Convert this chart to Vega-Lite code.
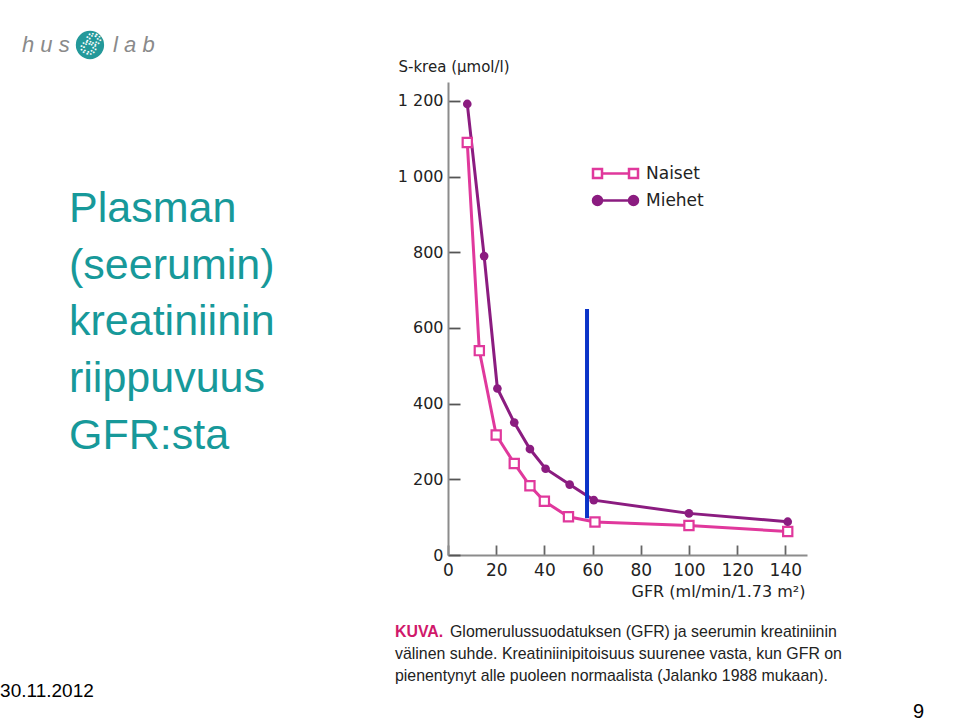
{
  "$schema": "https://vega.github.io/schema/vega-lite/v6.json",
  "width": 359,
  "height": 473,
  "autosize": {"type": "none"},
  "padding": {"left": 448, "top": 82, "right": 153, "bottom": 166},
  "background": "white",
  "config": {"view": {"stroke": null}, "axis": {"grid": false}},
  "datasets": {
    "kreatiniini": [
      {"sukupuoli": "Naiset", "gfr": 8, "krea": 1090},
      {"sukupuoli": "Naiset", "gfr": 13, "krea": 540},
      {"sukupuoli": "Naiset", "gfr": 20, "krea": 317},
      {"sukupuoli": "Naiset", "gfr": 27.5, "krea": 242},
      {"sukupuoli": "Naiset", "gfr": 34, "krea": 183},
      {"sukupuoli": "Naiset", "gfr": 40, "krea": 142},
      {"sukupuoli": "Naiset", "gfr": 50, "krea": 101},
      {"sukupuoli": "Naiset", "gfr": 61, "krea": 87},
      {"sukupuoli": "Naiset", "gfr": 100, "krea": 78},
      {"sukupuoli": "Naiset", "gfr": 141, "krea": 62},
      {"sukupuoli": "Miehet", "gfr": 8, "krea": 1192},
      {"sukupuoli": "Miehet", "gfr": 15, "krea": 790},
      {"sukupuoli": "Miehet", "gfr": 20.5, "krea": 440},
      {"sukupuoli": "Miehet", "gfr": 27.5, "krea": 350},
      {"sukupuoli": "Miehet", "gfr": 34, "krea": 280},
      {"sukupuoli": "Miehet", "gfr": 40.5, "krea": 228},
      {"sukupuoli": "Miehet", "gfr": 50.5, "krea": 186},
      {"sukupuoli": "Miehet", "gfr": 60.5, "krea": 145},
      {"sukupuoli": "Miehet", "gfr": 100, "krea": 110},
      {"sukupuoli": "Miehet", "gfr": 141, "krea": 88}
    ]
  },
  "layer": [
    {
      "data": {"name": "kreatiniini"},
      "mark": {"type": "line", "strokeWidth": 3},
      "encoding": {
        "x": {
          "field": "gfr", "type": "quantitative",
          "scale": {"domain": [0, 149], "nice": false, "zero": false},
          "axis": {
            "title": "GFR (ml/min/1.73 m²)",
            "values": [0, 10, 20, 30, 40, 50, 60, 70, 80, 90, 100, 110, 120, 130, 140],
            "labelExpr": "datum.value % 20 === 0 ? datum.label : ''",
            "tickSize": -10, "tickColor": "#666666", "tickWidth": 1.8,
            "domainColor": "#8c8c8c", "domainWidth": 2,
            "labelPadding": 17, "labelFont": "DejaVu Sans", "labelFontSize": 17, "labelColor": "#222222",
            "labelFlush": false, "labelOverlap": false,
            "titleFont": "DejaVu Sans", "titleFontSize": 16, "titleFontWeight": "normal", "titleColor": "#222222",
            "titleX": 357, "titleY": 36, "titleAlign": "right", "titleBaseline": "middle"
          }
        },
        "y": {
          "field": "krea", "type": "quantitative",
          "scale": {"domain": [0, 1250], "nice": false, "zero": false},
          "axis": {
            "title": "S-krea (µmol/l)",
            "values": [0, 100, 200, 300, 400, 500, 600, 700, 800, 900, 1000, 1100, 1200],
            "labelExpr": "datum.value % 200 === 0 ? replace(format(datum.value, ','), ',', ' ') : ''",
            "tickSize": -12, "tickColor": "#555555", "tickWidth": 1.8,
            "domainColor": "#8c8c8c", "domainWidth": 2,
            "labelPadding": 17, "labelFont": "DejaVu Sans", "labelFontSize": 16, "labelColor": "#222222",
            "labelFlush": false, "labelOverlap": false,
            "titleFont": "DejaVu Sans", "titleFontSize": 15, "titleFontWeight": "normal", "titleColor": "#222222",
            "titleAngle": 0, "titleX": -50, "titleY": -16, "titleAlign": "left", "titleBaseline": "middle"
          }
        },
        "color": {
          "field": "sukupuoli", "type": "nominal",
          "scale": {"domain": ["Naiset", "Miehet"], "range": ["#e0389c", "#8b1c80"]},
          "legend": {
            "orient": "none", "legendX": 156, "legendY": 80, "title": null, "padding": 0,
            "symbolSize": 400, "symbolStrokeWidth": 2.5,
            "labelFont": "DejaVu Sans", "labelFontSize": 17, "labelColor": "#222222",
            "labelOffset": 19, "rowPadding": 6,
            "encode": {
              "symbols": {
                "update": {
                  "shape": {"signal": "datum.value === 'Naiset' ? 'M-2.25,-0.45L-1.35,-0.45L-1.35,0.45L-2.25,0.45Z M-1.35,0L1.35,0 M1.35,-0.45L2.25,-0.45L2.25,0.45L1.35,0.45Z' : 'M-2.25,0A0.45,0.45,0,1,1,-1.35,0A0.45,0.45,0,1,1,-2.25,0Z M-1.35,0L1.35,0 M1.35,0A0.45,0.45,0,1,1,2.25,0A0.45,0.45,0,1,1,1.35,0Z'"},
                  "fill": {"signal": "datum.value === 'Naiset' ? 'white' : '#8b1c80'"},
                  "stroke": {"signal": "datum.value === 'Naiset' ? '#e0389c' : '#8b1c80'"},
                  "strokeWidth": {"value": 2.5},
                  "opacity": {"value": 1}
                }
              }
            }
          }
        }
      }
    },
    {
      "data": {"name": "kreatiniini"},
      "transform": [{"filter": "datum.sukupuoli === 'Naiset'"}],
      "mark": {"type": "point", "shape": "square", "filled": true, "fill": "white", "stroke": "#e0389c", "strokeWidth": 2.2, "size": 85, "opacity": 1},
      "encoding": {
        "x": {"field": "gfr", "type": "quantitative"},
        "y": {"field": "krea", "type": "quantitative"}
      }
    },
    {
      "data": {"name": "kreatiniini"},
      "transform": [{"filter": "datum.sukupuoli === 'Miehet'"}],
      "mark": {"type": "circle", "color": "#8b1c80", "size": 75, "opacity": 1},
      "encoding": {
        "x": {"field": "gfr", "type": "quantitative"},
        "y": {"field": "krea", "type": "quantitative"}
      }
    },
    {
      "data": {"values": [{}]},
      "mark": {"type": "rule", "color": "#0a33c8", "strokeWidth": 4},
      "encoding": {
        "x": {"datum": 57.7, "type": "quantitative"},
        "y": {"datum": 97, "type": "quantitative"},
        "y2": {"datum": 650}
      }
    },
    {
      "data": {"values": [{"t": "Plasman\n(seerumin)\nkreatiniinin\nriippuvuus\nGFR:sta"}]},
      "mark": {"type": "text", "lineBreak": "\n", "lineHeight": 56.8, "font": "Liberation Sans", "fontSize": 43, "color": "#17999a", "align": "left", "baseline": "alphabetic"},
      "encoding": {
        "text": {"field": "t", "type": "nominal"},
        "x": {"datum": -157.3, "type": "quantitative"},
        "y": {"datum": 880.8, "type": "quantitative"}
      }
    },
    {
      "data": {"values": [{"t": "KUVA."}]},
      "mark": {"type": "text", "font": "Liberation Sans", "fontSize": 15.9, "fontWeight": "bold", "color": "#d0186a", "align": "left", "baseline": "alphabetic"},
      "encoding": {
        "text": {"field": "t", "type": "nominal"},
        "x": {"datum": -22.0, "type": "quantitative"},
        "y": {"datum": -216.7, "type": "quantitative"}
      }
    },
    {
      "data": {"values": [{"t": "Glomerulussuodatuksen (GFR) ja seerumin kreatiniinin"}]},
      "mark": {"type": "text", "font": "Liberation Sans", "fontSize": 15.9, "color": "#222222", "align": "left", "baseline": "alphabetic"},
      "encoding": {
        "text": {"field": "t", "type": "nominal"},
        "x": {"datum": 0.83, "type": "quantitative"},
        "y": {"datum": -216.7, "type": "quantitative"}
      }
    },
    {
      "data": {"values": [{"t": "välinen suhde. Kreatiniinipitoisuus suurenee vasta, kun GFR on\npienentynyt alle puoleen normaalista (Jalanko 1988 mukaan)."}]},
      "mark": {"type": "text", "lineBreak": "\n", "lineHeight": 21.7, "font": "Liberation Sans", "fontSize": 15.9, "color": "#222222", "align": "left", "baseline": "alphabetic"},
      "encoding": {
        "text": {"field": "t", "type": "nominal"},
        "x": {"datum": -22.0, "type": "quantitative"},
        "y": {"datum": -275.6, "type": "quantitative"}
      }
    },
    {
      "data": {"values": [{"t": "30.11.2012"}]},
      "mark": {"type": "text", "font": "Liberation Sans", "fontSize": 19, "color": "#000000", "align": "left", "baseline": "alphabetic"},
      "encoding": {
        "text": {"field": "t", "type": "nominal"},
        "x": {"datum": -185.9, "type": "quantitative"},
        "y": {"datum": -374.5, "type": "quantitative"}
      }
    },
    {
      "data": {"values": [{"t": "9"}]},
      "mark": {"type": "text", "font": "Liberation Sans", "fontSize": 20, "color": "#000000", "align": "left", "baseline": "alphabetic"},
      "encoding": {
        "text": {"field": "t", "type": "nominal"},
        "x": {"datum": 193.0, "type": "quantitative"},
        "y": {"datum": -430.8, "type": "quantitative"}
      }
    },
    {
      "data": {"values": [{"t": "h u s"}]},
      "mark": {"type": "text", "font": "Liberation Sans", "fontSize": 22, "fontStyle": "italic", "color": "#8a8a8a", "align": "left", "baseline": "alphabetic"},
      "encoding": {
        "text": {"field": "t", "type": "nominal"},
        "x": {"datum": -176.8, "type": "quantitative"},
        "y": {"datum": 1330, "type": "quantitative"}
      }
    },
    {
      "data": {"values": [{"t": "l a b"}]},
      "mark": {"type": "text", "font": "Liberation Sans", "fontSize": 22, "fontStyle": "italic", "color": "#8a8a8a", "align": "left", "baseline": "alphabetic"},
      "encoding": {
        "text": {"field": "t", "type": "nominal"},
        "x": {"datum": -139.0, "type": "quantitative"},
        "y": {"datum": 1330, "type": "quantitative"}
      }
    },
    {
      "data": {"values": [{}]},
      "mark": {"type": "circle", "color": "#24999a", "size": 800, "opacity": 1},
      "encoding": {
        "x": {"datum": -148.6, "type": "quantitative"},
        "y": {"datum": 1347.8, "type": "quantitative"}
      }
    },
    {
      "data": {"values": [{"t": "8"}]},
      "mark": {"type": "text", "font": "Liberation Sans", "fontSize": 30, "fontStyle": "italic", "fill": "transparent", "stroke": "white", "strokeWidth": 1.6, "strokeDash": [1.5, 2], "align": "center", "baseline": "middle", "angle": 20},
      "encoding": {
        "text": {"field": "t", "type": "nominal"},
        "x": {"datum": -148.6, "type": "quantitative"},
        "y": {"datum": 1347.8, "type": "quantitative"}
      }
    }
  ]
}
